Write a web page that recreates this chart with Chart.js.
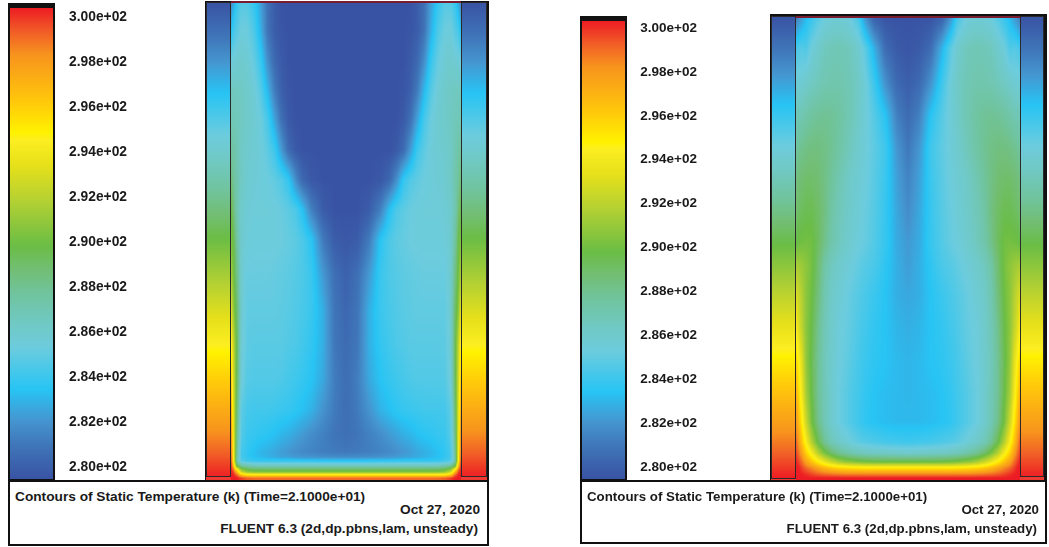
<!DOCTYPE html>
<html><head><meta charset="utf-8">
<script src="https://cdn.jsdelivr.net/npm/chart.js@4"></script>
<style>
html,body{margin:0;padding:0;background:#fff;width:1049px;height:547px;overflow:hidden}
canvas{position:absolute}
.box{position:absolute;box-sizing:border-box;border:2px solid #111;background:#fff;font:bold 13.7px "Liberation Sans",Arial,sans-serif;color:#1a1a1a}
.box div{position:absolute;white-space:nowrap;line-height:14px}
</style></head><body>
<canvas id="c1"></canvas><canvas id="c2"></canvas>
<div class="box" style="left:8px;top:480px;width:481px;height:66px">
 <div style="left:5px;top:8px">Contours of Static Temperature (k) (Time=2.1000e+01)</div>
 <div style="right:7px;top:21px">Oct 27, 2020</div>
 <div style="right:9px;top:40px">FLUENT 6.3 (2d,dp.pbns,lam, unsteady)</div>
</div>
<div class="box" style="left:580px;top:480px;width:467px;height:64px;font-size:13.3px">
 <div style="left:5px;top:8px">Contours of Static Temperature (k) (Time=2.1000e+01)</div>
 <div style="right:6px;top:21px">Oct 27, 2020</div>
 <div style="right:8px;top:40px">FLUENT 6.3 (2d,dp.pbns,lam, unsteady)</div>
</div>
<script>
// colour scale: temperature (K) -> colour
const colorLevels = [280,281.4,282.5,283.8,285.6,286.6,287.8,288.9,289.9,291.85,293.3,294.4,294.7,296.1,298,299,300];
const colorHex = ['#3953A4','#3F75B8','#4596D0','#27C4F4','#6DCCDD','#70C9C4','#70C4A0','#72BE74','#6ABD45','#B5D132','#E6E01A','#FCEE21','#FFF200','#FFC60B','#F7941D','#F15D27','#ED1C24'];
const tickValues = [300,298,296,294,292,290,288,286,284,282,280];
const tickLabels = ['3.00e+02','2.98e+02','2.96e+02','2.94e+02','2.92e+02','2.90e+02','2.88e+02','2.86e+02','2.84e+02','2.82e+02','2.80e+02'];
// wall strips: temperature by height
const stripHeights = [0,0.5,1];
const stripTemps = [280,290,300];
// half-width columns (0 = wall, 1 = centre line)
const halfCols = [0,.02,.05,.09,.14,.2,.26,.32,.38,.44,.5,.56,.62,.7,.8,.9,1];
// left panel
const leftRows = [0,27,57,87,117,147,177,207,237,272,307,342,377,407,432,449,454,458,463,466,469,472,475];
const leftTemps = [
[282,283,284.2,285,285,284.2,282.8,281.2,280.4,280,280,280,280,280,280,280,280],
[283.5,284.5,285,285.7,285.6,284.8,283.2,281.3,280.4,280.1,280,280,280,280,280,280,280],
[285.5,285.8,286,286.2,286,285.4,284.2,282.2,280.9,280.3,280,280,280,280,280,280,280],
[286.8,286.8,286.7,286.6,286.3,285.9,285,283.4,281.6,280.5,280.1,280,280,280,280,280,280],
[287.2,287,286.9,286.7,286.4,286.1,285.6,284.6,282.9,281.2,280.3,280,280,280,280,280,280],
[288,287.6,287.2,286.5,286.2,286,285.8,285.2,284.4,282.6,281,280.3,280,280,280,280,280],
[288.8,288,287.4,286.6,286.1,285.9,285.8,285.6,285.3,284.9,284.1,282.3,280.9,280.2,280,280,280],
[290,288.8,287.3,286.3,285.9,285.8,285.8,285.8,285.7,285.5,285.2,284.8,283.8,281.8,280.4,280,280],
[290.5,289.8,287.8,286.2,285.8,285.7,285.7,285.7,285.7,285.6,285.4,285.2,284.8,283.9,281.6,280.4,280.2],
[291.5,290.3,288.5,286.2,285.5,285.5,285.5,285.5,285.4,285.3,285.2,285,284.8,284.3,282.6,281.2,280.6],
[293.3,291,289.2,286.2,285.3,285.3,285.3,285.3,285.3,285.2,285.1,284.9,284.7,284.3,283.2,281.4,280.8],
[294.8,292.5,289.6,286,285.2,285.1,285.1,285.1,285.1,285.1,284.9,284.8,284.5,284.1,283.2,281.5,281],
[296.3,293,289.5,285.8,285,284.9,284.9,284.9,284.9,284.8,284.6,284.4,284.2,283.8,283,281.7,281.1],
[297.5,293.5,289,285.2,284.6,284.5,284.5,284.5,284.4,284.3,284.2,284,283.7,283.3,282.4,281.6,281.1],
[298.5,294,288.5,285,284.3,284.2,284,283.9,283.7,283.4,283.2,282.9,282.6,282.2,281.8,281.4,281.2],
[299,294.5,288,284.6,284.1,283.7,283.4,283.2,283,282.7,282.5,282.3,282.1,281.9,281.7,281.6,281.5],
[299.3,294.8,287.8,284.6,284.1,283.7,283.5,283.3,283.1,282.9,282.8,282.6,282.5,282.4,282.3,282.2,282.2],
[299.5,295,287.5,285,284.5,284.3,284.2,284.2,284.2,284.2,284.2,284.2,284.1,284.1,284,284,284],
[300,297,290,288,287.5,287,287,287,287,287,287,287,287,287,287,287,287],
[300,298.5,294,290.5,289.5,289,289,289,289,289,289,289,289,289,289,289,289],
[300,299.5,297,292.5,291,290.6,290.5,290.5,290.5,290.5,290.5,290.5,290.5,290.5,290.5,290.5,290.5],
[300,300,299,296.3,295.2,295,295,295,295,295,295,295,295,295,295,295,295],
[300,300,300,299.5,299,298.8,298.8,298.8,298.8,298.8,298.8,298.8,298.8,298.8,298.8,298.8,298.8]
];
// right panel
const rightRows = [0,31,68,98,131,161,195,226,248,278,311,345,378,405,425,436,445,451,458,461];
const rightTemps = [
[281.5,282,282.6,283.5,284.2,285,285.6,285.8,285.9,285.8,285.4,284.5,282.3,280.5,280,280,280],
[284.5,284.8,285,284.8,285.7,286.3,286.8,287,287.1,287,286.7,286.2,285.1,283.2,281,280.3,280.1],
[286,286,286.1,286.4,286.7,287,287.3,287.4,287.4,287.2,287,286.5,285.8,284.4,282.4,281,280.5],
[287,287.1,287.2,287.5,287.8,288,288.1,288,287.8,287.4,287,286.4,285.8,285,283.8,281.8,281],
[287.8,288,288.2,288.4,288.6,288.6,288.4,288.1,287.7,287.2,286.7,286.2,285.8,285.2,284.4,282.5,281.5],
[288.5,288.7,288.9,289.1,289.1,288.9,288.4,287.9,287.3,286.8,286.3,286,285.7,285.1,284.3,282.8,281.9],
[289,289.2,289.4,289.6,289.6,289.2,288.5,287.6,287,286.6,286.2,285.9,285.5,285,284.2,283,282.2],
[289.8,290,290.1,290.2,290.1,289.3,288.3,287.4,286.9,286.4,286,285.7,285.4,284.9,284.2,283.1,282.6],
[291.5,291.4,291.2,290.8,290.2,288.9,287.5,286.8,286.3,286,285.7,285.3,285,284.7,284,283.2,282.7],
[293,292.5,291.8,290.8,290,288.6,287.2,286.4,286,285.7,285.3,285,284.7,284.3,283.8,283.2,283],
[294.2,293.3,292.2,290.8,289.8,288.2,287,286.3,285.8,285.5,285.2,284.8,284.5,284.1,283.8,283.4,283.2],
[295.8,294.8,293.3,291,289.6,288,286.9,286.2,285.7,285.4,285,284.6,284.3,284,283.8,283.5,283.4],
[297,295.8,294,291.5,289.8,288,287,286.2,285.6,285.2,284.8,284.5,284.1,283.8,283.6,283.5,283.4],
[298,296.8,295,292.5,290.2,288.3,287,286.2,285.6,285.2,284.8,284.4,284,283.8,283.6,283.5,283.5],
[299,298,296.3,294.2,291.8,289.6,288,287,286.4,286,285.6,285.2,285,284.8,284.6,284.5,284.4],
[299.5,298.8,297.6,295.8,294,291.8,290.2,289,288.2,287.7,287.3,287,286.8,286.6,286.5,286.4,286.3],
[300,299.5,298.8,297.5,296.3,294.8,293.5,292.5,291.6,291,290.7,290.4,290.2,290,290,290,290],
[300,300,299.5,298.8,298.2,297.4,296.6,296,295.6,295.4,295.2,295.1,295,295,295,295,295],
[300,300,300,299.8,299.5,299.2,299,298.9,298.8,298.7,298.7,298.7,298.7,298.7,298.7,298.7,298.7],
[300,300,300,300,300,300,300,300,300,300,300,300,300,300,300,300,300]
];

const colorRGB = colorHex.map(h=>[1,3,5].map(i=>parseInt(h.substr(i,2),16)));
function locate(arr,v){
  let i=0;
  while(i<arr.length-2&&arr[i+1]<v)i++;
  const f=(v-arr[i])/(arr[i+1]-arr[i]);
  return [i,Math.max(0,Math.min(1,f))];
}
function colorOf(t){
  const [i,f]=locate(colorLevels,t),a=colorRGB[i],b=colorRGB[i+1];
  return [a[0]+(b[0]-a[0])*f,a[1]+(b[1]-a[1])*f,a[2]+(b[2]-a[2])*f];
}
function paint(ctx,x0,y0,x1,y1,fn){
  const w=x1-x0,h=y1-y0,img=ctx.createImageData(w,h);
  let k=0;
  for(let py=y0;py<y1;py++)for(let px=x0;px<x1;px++){
    const c=colorOf(fn(px+.5,py+.5));
    img.data[k++]=c[0];img.data[k++]=c[1];img.data[k++]=c[2];img.data[k++]=255;
  }
  ctx.putImageData(img,x0,y0);
}
const fieldPlugin={
  id:'field',
  beforeDatasetsDraw(chart){
    const p=chart.options.plugins.field,ctx=chart.ctx,S=chart.scales;
    const ox=p.ox,oy=p.oy,L=p.layout;
    const ds=chart.data.datasets[0],cols=ds.cols,rows=ds.rows,nc=cols.length,pts=ds.data;
    // frame background
    ctx.fillStyle='#111';
    ctx.fillRect(L.frameL-ox,L.frameT-oy,L.frameR-L.frameL,L.areaB-L.frameT);
    // field
    paint(ctx,L.fieldL-ox,L.top-oy,L.fieldR-ox,L.areaB-oy,(px,py)=>{
      const [j,fx]=locate(cols,S.x.getValueForPixel(px));
      const [i,fy]=locate(rows,S.yField.getValueForPixel(py));
      const a=pts[i*nc+j].v,b=pts[i*nc+j+1].v,c=pts[(i+1)*nc+j].v,d=pts[(i+1)*nc+j+1].v;
      return (a*(1-fx)+b*fx)*(1-fy)+(c*(1-fx)+d*fx)*fy;
    });
    // wall strips
    const strip=(py)=>{
      const h=S.yField.getValueForPixel(py)/rows[rows.length-1];
      const [i,f]=locate(stripHeights,h);
      return stripTemps[i]+(stripTemps[i+1]-stripTemps[i])*f;
    };
    for(const s of L.strips){
      ctx.fillStyle='#EE3A33';
      ctx.fillRect(s[0]-ox-1,s[2]-oy,s[1]-s[0]+2,L.areaB-s[2]);
      paint(ctx,s[0]-ox,L.top-oy,s[1]-ox,s[2]-oy,(px,py)=>strip(py));
      ctx.strokeStyle='#2a2a2a';ctx.lineWidth=1;
      ctx.strokeRect(s[0]-ox-.5,L.top-oy-.5,s[1]-s[0]+1,s[2]-L.top+1);
    }
    // colour bar
    ctx.fillStyle='#111';
    ctx.fillRect(L.barL-ox,L.barCap-oy,L.barR-L.barL,L.barB-L.barCap+1);
    paint(ctx,L.barL+2-ox,Math.round(S.yBar.getPixelForValue(300)),L.barR-2-ox,Math.round(S.yBar.getPixelForValue(280)),(px,py)=>S.yBar.getValueForPixel(py));
  }
};
function makePanel(id,ox,oy,cw,ch,rows,temps,L,tickTop,tickBottom,tickRight,fontSize){
  const cv=document.getElementById(id);
  cv.width=cw;cv.height=ch;cv.style.cssText=`position:absolute;left:${ox}px;top:${oy}px;width:${cw}px;height:${ch}px`;
  const A={l:L.barL-ox,r:L.frameR-ox,t:L.frameT-oy,b:L.areaB-oy};
  const half=(L.fieldR-L.fieldL)/2;
  const cols2=halfCols.concat(halfCols.slice(0,-1).reverse().map(d=>2-d));
  const points=[];
  rows.forEach((r,i)=>{
    const full=temps[i].concat(temps[i].slice(0,-1).reverse());
    full.forEach((v,j)=>points.push({x:cols2[j],y:r,v}));
  });
  const rowMax=rows[rows.length-1];
  const pxY=(L.bottom-L.top)/rowMax;
  const yAreaTop=L.frameT,yAreaBot=L.areaB;
  const tickPx=(tickBottom-tickTop)/20;
  const barPx=(L.barB-L.barTop)/20;
  new Chart(cv,{
    type:'scatter',
    data:{datasets:[
      {data:points,cols:cols2,rows:rows,pointRadius:0,showLine:false,xAxisID:'x',yAxisID:'yField'},
      {data:[{x:0,y:L.redLine},{x:2,y:L.redLine}],type:'line',showLine:true,borderColor:'#7a1c30',borderWidth:2,pointRadius:0,xAxisID:'x',yAxisID:'yField',clip:false}
    ]},
    plugins:[fieldPlugin],
    options:{
      responsive:false,animation:false,devicePixelRatio:1,events:[],
      layout:{padding:{left:A.l,right:cw-A.r,top:A.t,bottom:ch-A.b}},
      plugins:{legend:{display:false},tooltip:{enabled:false},title:{display:false},
        field:{ox,oy,layout:L}},
      scales:{
        x:{type:'linear',display:false,min:(L.barL-L.fieldL)/half,max:(L.frameR-L.fieldL)/half},
        yField:{axis:'y',type:'linear',display:false,reverse:true,min:(yAreaTop-L.top)/pxY,max:(yAreaBot-L.top)/pxY},
        yBar:{axis:'y',type:'linear',display:false,min:280+(L.barB-yAreaBot)/barPx,max:280+(L.barB-yAreaTop)/barPx},
        yTick:{axis:'y',type:'linear',position:{x:(tickRight-L.fieldL)/half},
          min:280+(tickBottom-yAreaBot)/tickPx,max:280+(tickBottom-yAreaTop)/tickPx,
          grid:{display:false,drawTicks:false},border:{display:false},
          afterBuildTicks(s){s.ticks=tickValues.map(value=>({value}));},
          ticks:{autoSkip:false,maxRotation:0,color:'#1a1a1a',font:{family:'"Liberation Sans",Arial,sans-serif',weight:'bold',size:fontSize},
            callback(v){const i=tickValues.indexOf(v);return i<0?'':tickLabels[i];}}}
      }
    }
  });
}
makePanel('c1',0,-20,505,587,leftRows,leftTemps,
  {barL:8,barR:55,barCap:3,barTop:8,barB:479,frameL:205,frameR:489,frameT:1,areaB:480,fieldL:231,fieldR:461,top:3,bottom:478,redLine:-1,
   strips:[[207,230,476],[462,486,476]]},17,467,127,13.8);
makePanel('c2',545,-20,504,587,rightRows,rightTemps,
  {barL:580,barR:627,barCap:16,barTop:21,barB:479,frameL:770,frameR:1047,frameT:14,areaB:480,fieldL:796,fieldR:1020,top:17,bottom:478,redLine:0,
   strips:[[772,795,478],[1021,1043,476]]},28,467,697,13.5);
</script>
</body></html>
